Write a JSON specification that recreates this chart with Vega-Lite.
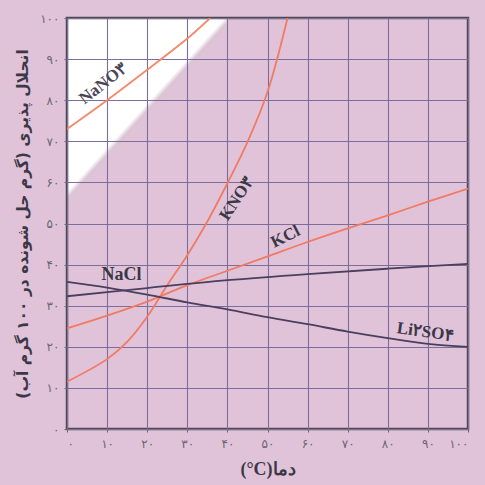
{
  "$schema": "https://vega.github.io/schema/vega-lite/v6.json",
  "width": 401,
  "height": 411,
  "autosize": {"type": "none"},
  "padding": {"left": 67, "top": 18, "right": 17, "bottom": 56},
  "background": "#e1c3d9",
  "view": {
    "stroke": "#4d4a52",
    "strokeWidth": 2.5,
    "fill": {
      "gradient": "linear",
      "x1": 0, "y1": 0, "x2": 0.732, "y2": 0.681,
      "stops": [
        {"offset": 0, "color": "#ffffff"},
        {"offset": 0.288, "color": "#ffffff"},
        {"offset": 0.3, "color": "#dac4d4"},
        {"offset": 0.312, "color": "#e1c3d9"},
        {"offset": 1, "color": "#e1c3d9"}
      ]
    }
  },
  "config": {
    "axis": {
      "grid": true,
      "gridColor": "#7b6d9c",
      "gridWidth": 1.1,
      "gridOpacity": 1,
      "domain": false,
      "ticks": true,
      "tickColor": "#6a6670",
      "tickSize": 3,
      "labelColor": "#6a6670",
      "labelFont": "DejaVu Sans",
      "labelFontSize": 12,
      "titleColor": "#3a3746",
      "titleFont": "Liberation Serif",
      "titleFontWeight": "bold"
    }
  },
  "datasets": {
    "curves": [
      {"salt": "NaNO3", "t": 0, "s": 73},
      {"salt": "NaNO3", "t": 10, "s": 80},
      {"salt": "NaNO3", "t": 20, "s": 87.4},
      {"salt": "NaNO3", "t": 30, "s": 95},
      {"salt": "NaNO3", "t": 35.7, "s": 100},
      {"salt": "KNO3", "t": 0, "s": 11.5},
      {"salt": "KNO3", "t": 10, "s": 17},
      {"salt": "KNO3", "t": 15, "s": 21.2},
      {"salt": "KNO3", "t": 20, "s": 27.3},
      {"salt": "KNO3", "t": 25, "s": 35},
      {"salt": "KNO3", "t": 30, "s": 42.3},
      {"salt": "KNO3", "t": 35, "s": 50.5},
      {"salt": "KNO3", "t": 40, "s": 59.8},
      {"salt": "KNO3", "t": 45, "s": 69.8},
      {"salt": "KNO3", "t": 50, "s": 82},
      {"salt": "KNO3", "t": 55, "s": 100},
      {"salt": "KCl", "t": 0, "s": 24.5},
      {"salt": "KCl", "t": 10, "s": 27.6},
      {"salt": "KCl", "t": 20, "s": 31},
      {"salt": "KCl", "t": 30, "s": 35},
      {"salt": "KCl", "t": 40, "s": 38.5},
      {"salt": "KCl", "t": 50, "s": 42},
      {"salt": "KCl", "t": 60, "s": 45.5},
      {"salt": "KCl", "t": 70, "s": 48.8},
      {"salt": "KCl", "t": 80, "s": 52},
      {"salt": "KCl", "t": 90, "s": 55.3},
      {"salt": "KCl", "t": 100, "s": 58.5},
      {"salt": "NaCl", "t": 0, "s": 32.3},
      {"salt": "NaCl", "t": 20, "s": 34.3},
      {"salt": "NaCl", "t": 40, "s": 36.2},
      {"salt": "NaCl", "t": 60, "s": 37.7},
      {"salt": "NaCl", "t": 80, "s": 39},
      {"salt": "NaCl", "t": 100, "s": 40.2},
      {"salt": "Li2SO4", "t": 0, "s": 35.8},
      {"salt": "Li2SO4", "t": 10, "s": 34.4},
      {"salt": "Li2SO4", "t": 20, "s": 32.7},
      {"salt": "Li2SO4", "t": 30, "s": 30.8},
      {"salt": "Li2SO4", "t": 40, "s": 29.1},
      {"salt": "Li2SO4", "t": 50, "s": 27.2},
      {"salt": "Li2SO4", "t": 60, "s": 25.5},
      {"salt": "Li2SO4", "t": 70, "s": 23.7},
      {"salt": "Li2SO4", "t": 80, "s": 22.1},
      {"salt": "Li2SO4", "t": 90, "s": 20.7},
      {"salt": "Li2SO4", "t": 100, "s": 20}
    ],
    "labels": [
      {"id": "NaNO3", "label": "NaNO۳", "t": 9, "s": 84},
      {"id": "KNO3", "label": "KNO۳", "t": 42.3, "s": 56},
      {"id": "KCl", "label": "KCl", "t": 54.5, "s": 46.8},
      {"id": "NaCl", "label": "NaCl", "t": 13.6, "s": 37.4},
      {"id": "Li2SO4", "label": "Li۲SO۴", "t": 89.3, "s": 23.6}
    ]
  },
  "layer": [
    {
      "data": {"name": "curves"},
      "mark": {"type": "line", "interpolate": "catmull-rom", "clip": true},
      "encoding": {
        "x": {
          "field": "t", "type": "quantitative",
          "scale": {"domain": [0, 100], "nice": false},
          "axis": {
            "values": [0, 10, 20, 30, 40, 50, 60, 70, 80, 90, 100],
            "labelExpr": "['۰','۱۰','۲۰','۳۰','۴۰','۵۰','۶۰','۷۰','۸۰','۹۰','۱۰۰'][round(datum.value/10)]",
            "labelPadding": 6,
            "title": "(°C)دما",
            "titleFontSize": 18,
            "titlePadding": 11
          }
        },
        "y": {
          "field": "s", "type": "quantitative",
          "scale": {"domain": [0, 100], "nice": false},
          "axis": {
            "values": [0, 10, 20, 30, 40, 50, 60, 70, 80, 90, 100],
            "labelExpr": "['۰','۱۰','۲۰','۳۰','۴۰','۵۰','۶۰','۷۰','۸۰','۹۰','۱۰۰'][round(datum.value/10)]",
            "labelPadding": 5,
            "title": "انحلال پذیری (گرم حل شونده در ۱۰۰ گرم آب)‏",
            "titleFont": "DejaVu Sans",
            "titleFontSize": 15.5,
            "titlePadding": 9
          }
        },
        "color": {
          "field": "salt", "type": "nominal",
          "scale": {
            "domain": ["NaNO3", "KNO3", "KCl", "NaCl", "Li2SO4"],
            "range": ["#f3896b", "#f07b62", "#f07b62", "#4a3f5e", "#4a3f5e"]
          },
          "legend": null
        },
        "strokeWidth": {
          "field": "salt", "type": "nominal",
          "scale": {
            "domain": ["NaNO3", "KNO3", "KCl", "NaCl", "Li2SO4"],
            "range": [1.8, 1.8, 2, 2.6, 2.6]
          },
          "legend": null
        }
      }
    },
    {
      "data": {"name": "labels"},
      "transform": [{"filter": "datum.id === 'NaNO3'"}],
      "mark": {"type": "text", "angle": 322, "font": "Liberation Serif", "fontWeight": "bold", "fontSize": 17, "color": "#4a4656"},
      "encoding": {"x": {"field": "t", "type": "quantitative"}, "y": {"field": "s", "type": "quantitative"}, "text": {"field": "label"}}
    },
    {
      "data": {"name": "labels"},
      "transform": [{"filter": "datum.id === 'KNO3'"}],
      "mark": {"type": "text", "angle": 303, "font": "Liberation Serif", "fontWeight": "bold", "fontSize": 17, "color": "#3a3746"},
      "encoding": {"x": {"field": "t", "type": "quantitative"}, "y": {"field": "s", "type": "quantitative"}, "text": {"field": "label"}}
    },
    {
      "data": {"name": "labels"},
      "transform": [{"filter": "datum.id === 'KCl'"}],
      "mark": {"type": "text", "angle": 333, "font": "Liberation Serif", "fontWeight": "bold", "fontSize": 17, "color": "#3a3746"},
      "encoding": {"x": {"field": "t", "type": "quantitative"}, "y": {"field": "s", "type": "quantitative"}, "text": {"field": "label"}}
    },
    {
      "data": {"name": "labels"},
      "transform": [{"filter": "datum.id === 'NaCl'"}],
      "mark": {"type": "text", "angle": 0, "font": "Liberation Serif", "fontWeight": "bold", "fontSize": 18, "color": "#3a3746"},
      "encoding": {"x": {"field": "t", "type": "quantitative"}, "y": {"field": "s", "type": "quantitative"}, "text": {"field": "label"}}
    },
    {
      "data": {"name": "labels"},
      "transform": [{"filter": "datum.id === 'Li2SO4'"}],
      "mark": {"type": "text", "angle": 8, "font": "Liberation Serif", "fontWeight": "bold", "fontSize": 17, "color": "#3a3746"},
      "encoding": {"x": {"field": "t", "type": "quantitative"}, "y": {"field": "s", "type": "quantitative"}, "text": {"field": "label"}}
    }
  ]
}
